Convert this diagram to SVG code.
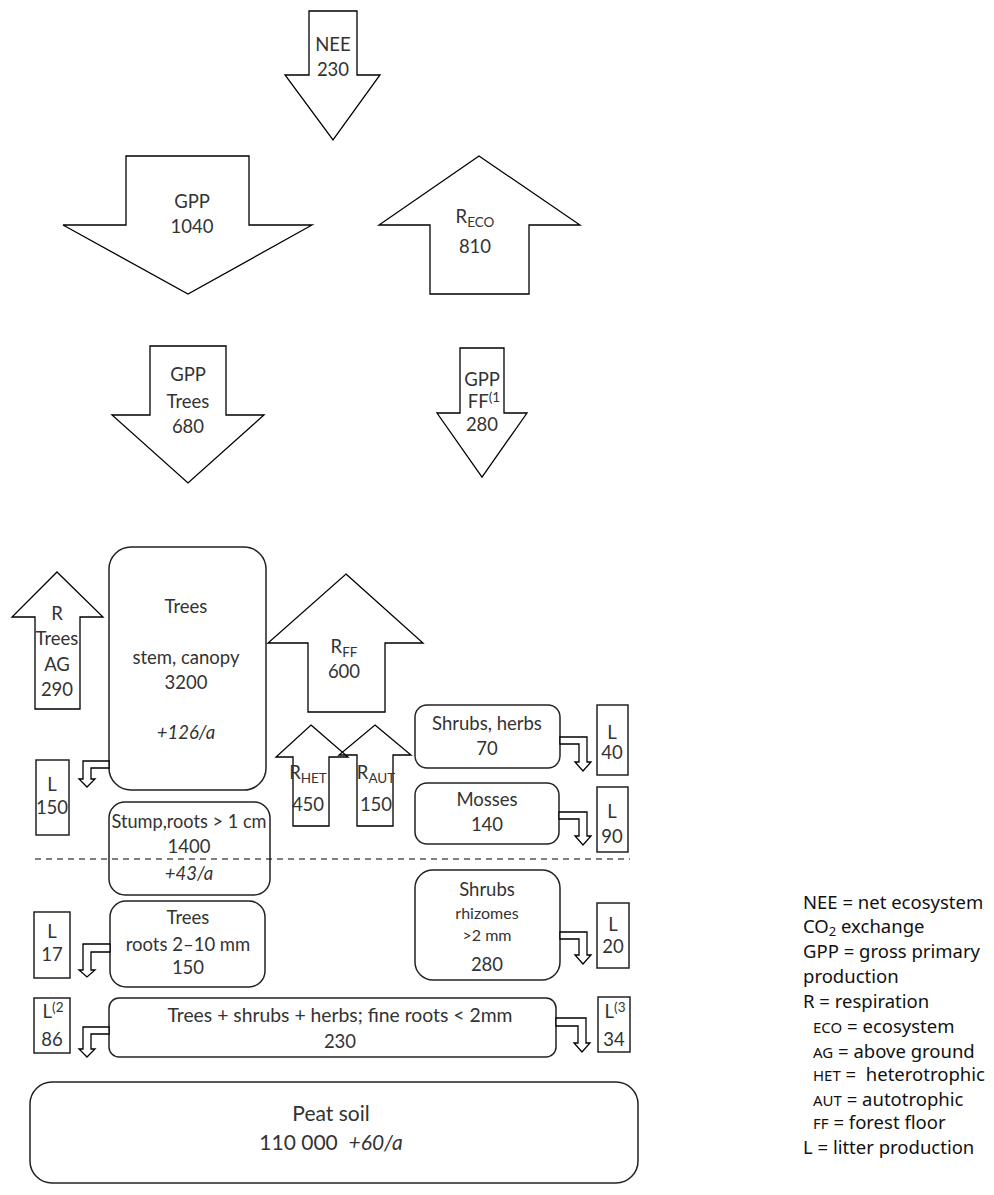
<svg xmlns="http://www.w3.org/2000/svg" width="994" height="1195" viewBox="0 0 994 1195">
<style>
.s{fill:#fff;stroke:#000;stroke-width:1.3;stroke-linejoin:miter}
.b{fill:#fff;stroke:#222;stroke-width:1.5}
.t{font-family:Lato,"Liberation Sans",sans-serif;font-size:18.5px;fill:#333;text-anchor:middle}
.i{font-style:italic}
.sub{font-size:13.5px}
.sm{font-size:16px}
.big{font-size:21px}
.lg{font-family:"Noto Sans","Open Sans",sans-serif;font-size:18.5px;fill:#111}
.lgs{font-size:15px}
.lgsub{font-size:13px}
.dash{stroke:#000;stroke-width:1.2;stroke-dasharray:6 5;fill:none}
</style>
<rect width="994" height="1195" fill="#fff"/>

<g id="nee">
<polygon class="s" points="309,11 357,11 357,75 380,75 333,140 285,75 309,75"/>
<text class="t" x="333" y="51">NEE</text>
<text class="t" x="333" y="76">230</text>
</g>

<g id="gpp">
<polygon class="s" points="126,156 249,156 249,225 312,225 188,294 63,225 126,225"/>
<text class="t" x="192" y="208">GPP</text>
<text class="t" x="192" y="233">1040</text>
</g>

<g id="reco">
<polygon class="s" points="479,156 580,225 529,225 529,294 430,294 430,225 379,225"/>
<text class="t" x="475" y="223">R<tspan class="sub" dy="4">ECO</tspan></text>
<text class="t" x="475" y="253">810</text>
</g>

<g id="gpp-trees">
<polygon class="s" points="150,346 226,346 226,415 264,415 188,483 112,415 150,415"/>
<text class="t" x="188" y="381">GPP</text>
<text class="t" x="188" y="408">Trees</text>
<text class="t" x="188" y="433">680</text>
</g>

<g id="gpp-ff">
<polygon class="s" points="460,348 504,348 504,413 527,413 482,477 437,413 460,413"/>
<text class="t" x="482" y="386">GPP</text>
<text class="t" x="484" y="408">FF<tspan class="sub" dy="-6">(1</tspan></text>
<text class="t" x="482" y="431">280</text>
</g>

<g id="r-trees-ag">
<polygon class="s" points="57,572 103,617 80,617 80,709 35,709 35,617 12,617"/>
<text class="t" x="57" y="620">R</text>
<text class="t" x="57" y="645">Trees</text>
<text class="t" x="57" y="671">AG</text>
<text class="t" x="57" y="696">290</text>
</g>

<g id="trees">
<rect class="b" x="109" y="547" width="157" height="243" rx="22"/>
<text class="t" x="186" y="613">Trees</text>
<text class="t" x="186" y="664">stem, canopy</text>
<text class="t" x="186" y="689">3200</text>
<text class="t i" x="186" y="739">+126/a</text>
</g>

<g id="r-ff">
<polygon class="s" points="346,574 423,643 385,643 385,712 308,712 308,643 268,643"/>
<text class="t" x="344" y="653">R<tspan class="sub" dy="4">FF</tspan></text>
<text class="t" x="344" y="678">600</text>
</g>

<g id="r-het">
<polygon class="s" style="fill:none" points="311,725 348,757 329,757 329,826 293,826 293,757 276,757"/>
<text class="t" x="308" y="779">R<tspan class="sub" dy="4">HET</tspan></text>
<text class="t" x="308" y="811">450</text>
</g>

<g id="r-aut">
<polygon class="s" style="fill:none" points="375,725 411,755 393,755 393,826 357,826 357,755 339,755"/>
<text class="t" x="376" y="779">R<tspan class="sub" dy="4">AUT</tspan></text>
<text class="t" x="376" y="811">150</text>
</g>

<g id="shrubs-herbs">
<rect class="b" x="415" y="705" width="145" height="63" rx="12"/>
<text class="t" x="487" y="730">Shrubs, herbs</text>
<text class="t" x="487" y="755">70</text>
</g>

<g id="mosses">
<rect class="b" x="415" y="783" width="144" height="61" rx="12"/>
<text class="t" x="487" y="806">Mosses</text>
<text class="t" x="487" y="831">140</text>
</g>

<g id="stump">
<rect class="b" x="109" y="802" width="161" height="93" rx="16"/>
<text class="t" x="189" y="828" textLength="155" lengthAdjust="spacingAndGlyphs">Stump,roots &gt; 1 cm</text>
<text class="t" x="189" y="853">1400</text>
<text class="t i" x="189" y="880">+43/a</text>
</g>

<g id="trees-roots">
<rect class="b" x="110" y="901" width="155" height="86" rx="16"/>
<text class="t" x="188" y="924">Trees</text>
<text class="t" x="188" y="951">roots 2–10 mm</text>
<text class="t" x="188" y="974">150</text>
</g>

<g id="shrubs-rhizomes">
<rect class="b" x="415" y="870" width="145" height="110" rx="18"/>
<text class="t" x="487" y="896">Shrubs</text>
<text class="t sm" x="487" y="919">rhizomes</text>
<text class="t sm" x="487" y="941">&gt;2 mm</text>
<text class="t" x="487" y="971">280</text>
</g>

<g id="fine-roots">
<rect class="b" x="109" y="998" width="447" height="59" rx="10"/>
<text class="t" x="340" y="1022" textLength="345" lengthAdjust="spacingAndGlyphs">Trees + shrubs + herbs; fine roots &lt; 2mm</text>
<text class="t" x="340" y="1048">230</text>
</g>

<g id="peat">
<rect class="b" x="30" y="1082" width="608" height="101" rx="22"/>
<text class="t big" x="331" y="1121">Peat soil</text>
<text class="t big" x="331" y="1150">110 000&#160;&#160;<tspan class="i">+60/a</tspan></text>
</g>

<g id="l150">
<rect class="b" x="36" y="760" width="33" height="75"/>
<text class="t" x="52" y="791">L</text>
<text class="t" x="52" y="814">150</text>
</g>
<g id="l17">
<rect class="b" x="34" y="912" width="36" height="66"/>
<text class="t" x="52" y="938">L</text>
<text class="t" x="52" y="961">17</text>
</g>
<g id="l86">
<rect class="b" x="34" y="998" width="36" height="55"/>
<text class="t" x="53" y="1018">L<tspan class="sub" dy="-6">(2</tspan></text>
<text class="t" x="52" y="1046">86</text>
</g>
<g id="l40">
<rect class="b" x="597" y="705" width="31" height="70"/>
<text class="t" x="612" y="739">L</text>
<text class="t" x="612" y="759">40</text>
</g>
<g id="l90">
<rect class="b" x="597" y="787" width="31" height="65"/>
<text class="t" x="612" y="818">L</text>
<text class="t" x="612" y="843">90</text>
</g>
<g id="l20">
<rect class="b" x="597" y="903" width="32" height="65"/>
<text class="t" x="613" y="931">L</text>
<text class="t" x="613" y="953">20</text>
</g>
<g id="l34">
<rect class="b" x="598" y="997" width="32" height="55"/>
<text class="t" x="615" y="1018">L<tspan class="sub" dy="-6">(3</tspan></text>
<text class="t" x="614" y="1046">34</text>
</g>

<g id="connectors">
<line class="dash" x1="35" y1="859" x2="630" y2="859"/>
<polygon class="s" points="109,761 83,761 83,779 79,779 87,787 95,779 91,779 91,768 109,768"/>
<polygon class="s" points="110,944 83,944 83,970 79,970 87,977 95,970 91,970 91,952 110,952"/>
<polygon class="s" points="109,1027 83,1027 83,1049 79,1049 87,1057 95,1049 91,1049 91,1034 109,1034"/>
<polygon class="s" points="560,737 587,737 587,762 591,762 583,771 575,762 579,762 579,744 560,744"/>
<polygon class="s" points="559,812 587,812 587,836 591,836 583,845 575,836 579,836 579,819 559,819"/>
<polygon class="s" points="560,932 587,932 587,955 591,955 583,964 575,955 579,955 579,939 560,939"/>
<polygon class="s" points="556,1018 586,1018 586,1043 590,1043 582,1052 574,1043 578,1043 578,1026 556,1026"/>
</g>

<g id="legend" class="lg">
<text x="803" y="909">NEE = net ecosystem</text>
<text x="803" y="933">CO<tspan class="lgsub" dy="3">2</tspan><tspan dy="-3"> exchange</tspan></text>
<text x="803" y="958">GPP = gross primary</text>
<text x="803" y="983">production</text>
<text x="803" y="1008">R = respiration</text>
<text x="813" y="1033"><tspan class="lgs">ECO</tspan> = ecosystem</text>
<text x="813" y="1058"><tspan class="lgs">AG</tspan> = above ground</text>
<text x="813" y="1081" xml:space="preserve"><tspan class="lgs">HET</tspan> =  heterotrophic</text>
<text x="813" y="1106"><tspan class="lgs">AUT</tspan> = autotrophic</text>
<text x="813" y="1129"><tspan class="lgs">FF</tspan> = forest floor</text>
<text x="803" y="1154">L = litter production</text>
</g>
</svg>
